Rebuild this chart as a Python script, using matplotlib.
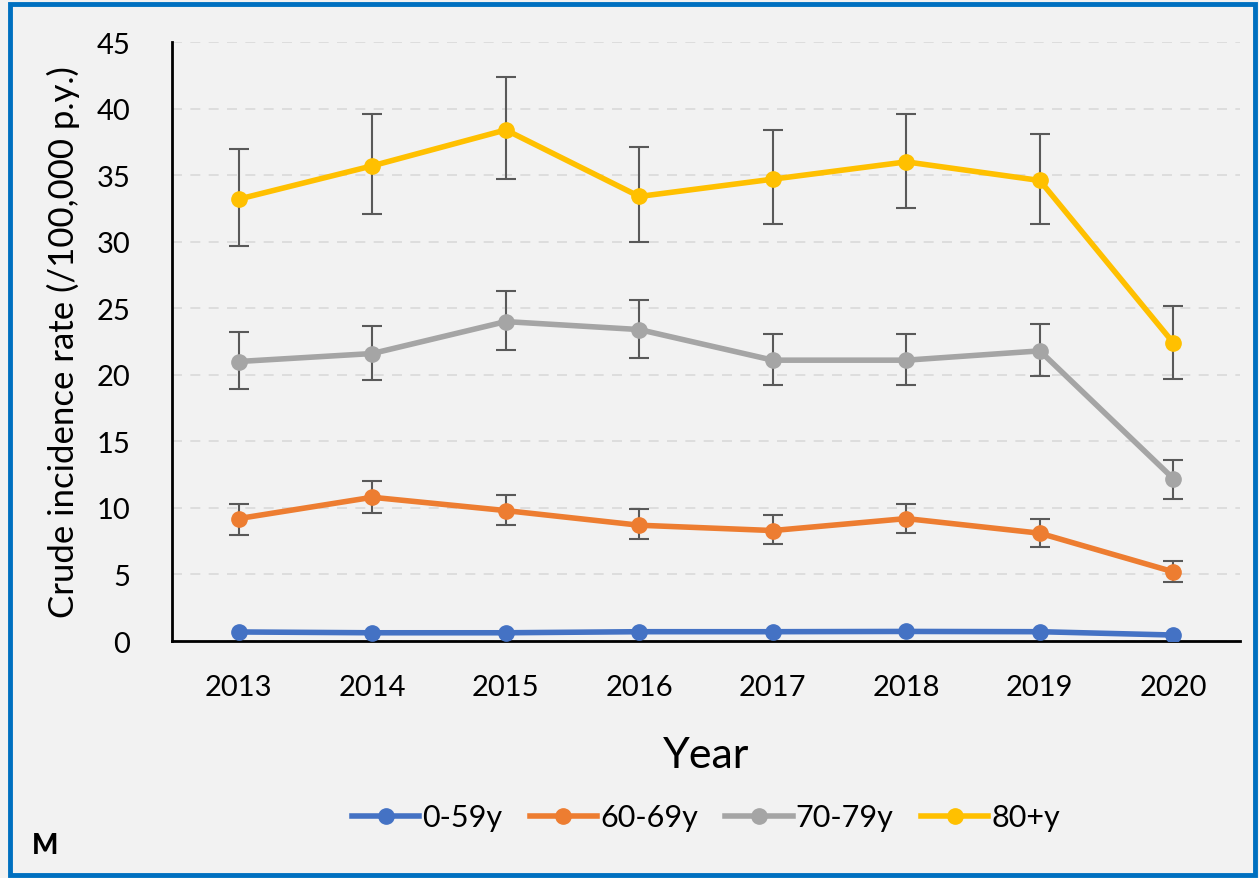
import numpy as np
import matplotlib.pyplot as plt
from matplotlib import patches

#===Data===#
years = ['2013', '2014', '2015', '2016', '2017', '2018', '2019', '2020']
groups = ['0-59y', '60-69y', '70-79y', '80+y']
colors = ['#4472C4', '#ED7D31', '#A5A5A5', '#FFC000']

rate_0_59 = [0.68, 0.62, 0.62, 0.70, 0.70, 0.72, 0.70, 0.45]
rate_60_69 = [9.2, 10.8, 9.8, 8.7, 8.3, 9.2, 8.1, 5.2]
rate_70_79 = [21.0, 21.6, 24.0, 23.4, 21.1, 21.1, 21.8, 12.2]
rate_80 = [33.2, 35.7, 38.4, 33.4, 34.7, 36.0, 34.6, 22.4]

lo_60_69 = [8.0, 9.6, 8.7, 7.7, 7.3, 8.1, 7.1, 4.4]
hi_60_69 = [10.3, 12.0, 11.0, 9.9, 9.5, 10.3, 9.2, 6.0]
lo_70_79 = [18.9, 19.6, 21.9, 21.3, 19.2, 19.2, 19.9, 10.7]
hi_70_79 = [23.2, 23.7, 26.3, 25.6, 23.1, 23.1, 23.8, 13.6]
lo_80 = [29.7, 32.1, 34.7, 30.0, 31.3, 32.5, 31.3, 19.7]
hi_80 = [37.0, 39.6, 42.4, 37.1, 38.4, 39.6, 38.1, 25.2]

series = [rate_0_59, rate_60_69, rate_70_79, rate_80]
lows = [None, lo_60_69, lo_70_79, lo_80]
highs = [None, hi_60_69, hi_70_79, hi_80]

plt.rcParams['font.family'] = ['Lato', 'DejaVu Sans']

#===Create Figure===#
fig = plt.figure(figsize=(12.59, 8.79), dpi=100)
fig.patch.set_facecolor('#f2f2f2')
ax = fig.add_axes([0.1366, 0.2696, 0.8484, 0.6814])
ax.set_facecolor('#f2f2f2')

#===Blue frame===#
fig.add_artist(patches.Rectangle((0.008, 0.003), 0.989, 0.991, transform=fig.transFigure,
                                 fill=False, edgecolor='#0070C0', linewidth=3.5))

x = np.arange(len(years))
for i in range(len(groups)):
    vals = np.array(series[i])
    if lows[i] is not None:
        err = [vals - np.array(lows[i]), np.array(highs[i]) - vals]
        ax.errorbar(x, vals, yerr=err, fmt='none', ecolor='#595959', elinewidth=1.5,
                    capsize=7, capthick=1.5, zorder=2)
    ax.plot(x, vals, '-o', color=colors[i], linewidth=4, markersize=11,
            label=groups[i], zorder=3)

#===Axes===#
ax.set_xlim(-0.5, len(years) - 0.5)
ax.set_ylim(0, 45)
ax.set_yticks(np.arange(0, 46, 5))
ax.set_xticks(x)
ax.set_xticklabels(years)
ax.tick_params(axis='both', length=0, labelsize=21)
ax.tick_params(axis='y', pad=30)
ax.tick_params(axis='x', pad=24)
ax.yaxis.grid(True, linestyle=(0, (6, 5)), color='#d9d9d9', linewidth=1.2)
ax.set_axisbelow(True)
for s in ['top', 'right']:
    ax.spines[s].set_visible(False)
for s in ['left', 'bottom']:
    ax.spines[s].set_linewidth(2)
    ax.spines[s].set_color('black')

ax.set_ylabel('Crude incidence rate (/100,000 p.y.)', fontsize=25, labelpad=12)
ax.set_xlabel('Year', fontsize=31, labelpad=26)

leg = ax.legend(loc='upper center', bbox_to_anchor=(0.5, -0.225), ncol=4, frameon=False,
                fontsize=22, handlelength=2.2, handletextpad=0.1, columnspacing=0.9)

fig.text(0.025, 0.028, 'M', fontsize=20, fontweight='black')

plt.savefig('out.png', dpi=100, facecolor=fig.get_facecolor())
